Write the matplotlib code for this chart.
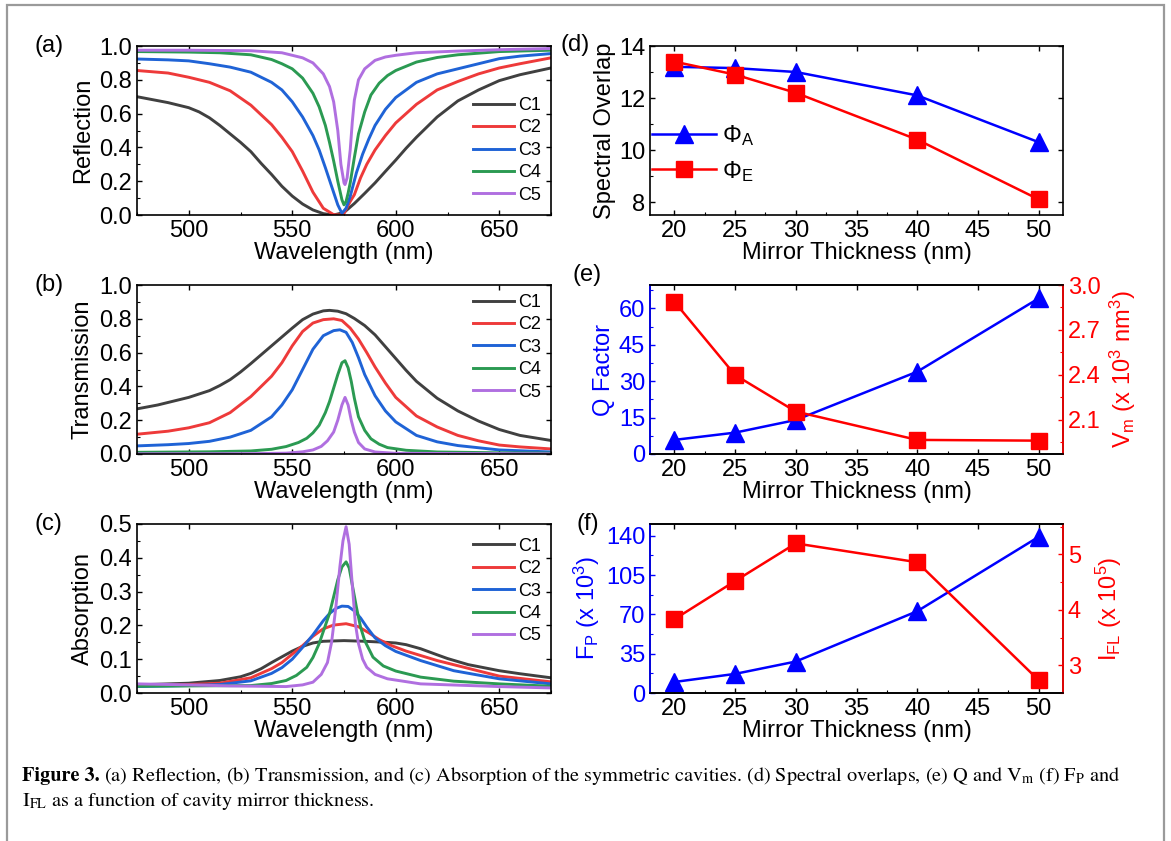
import matplotlib
matplotlib.use("Agg")
import matplotlib.pyplot as plt
from matplotlib.patches import Rectangle
from matplotlib.ticker import MultipleLocator, FormatStrFormatter

plt.rcParams['font.family'] = ['Liberation Sans', 'DejaVu Sans']
plt.rcParams['mathtext.fontset'] = 'custom'
plt.rcParams['mathtext.rm'] = 'Liberation Sans'
plt.rcParams['mathtext.it'] = 'Liberation Sans:italic'
plt.rcParams['mathtext.bf'] = 'Liberation Sans:bold'

# ---------------- data ----------------
cavities = ["C1", "C2", "C3", "C4", "C5"]
curve_colors = ["#404040", "#ee3a3a", "#1f63d6", "#2b9a52", "#b06fe0"]

# Reflection
R_C1_wl = [475, 490, 500, 505, 510, 515, 520, 525, 530, 535, 540, 545, 550, 555, 560, 565, 570, 575, 580, 585, 590, 595, 600, 605, 610, 620, 630, 640, 650, 660, 675]
R_C1 = [0.70, 0.665, 0.635, 0.61, 0.575, 0.53, 0.48, 0.43, 0.375, 0.305, 0.24, 0.17, 0.112, 0.065, 0.03, 0.008, 0.0, 0.015, 0.068, 0.128, 0.19, 0.258, 0.325, 0.395, 0.46, 0.58, 0.675, 0.74, 0.795, 0.83, 0.87]
R_C2_wl = [475, 490, 500, 510, 520, 530, 540, 545, 550, 555, 560, 565, 570, 573, 575, 578, 580, 583, 586, 590, 595, 600, 610, 620, 630, 640, 650, 660, 675]
R_C2 = [0.855, 0.84, 0.815, 0.785, 0.735, 0.65, 0.535, 0.46, 0.375, 0.26, 0.135, 0.04, 0.002, 0.0, 0.01, 0.08, 0.12, 0.22, 0.30, 0.385, 0.47, 0.545, 0.655, 0.74, 0.79, 0.835, 0.87, 0.895, 0.93]
R_C3_wl = [475, 490, 500, 510, 520, 530, 540, 545, 550, 555, 560, 563, 566, 569, 572, 574, 576, 578, 581, 584, 587, 590, 595, 600, 610, 620, 630, 640, 650, 660, 675]
R_C3 = [0.923, 0.918, 0.912, 0.895, 0.875, 0.845, 0.785, 0.74, 0.67, 0.58, 0.47, 0.385, 0.28, 0.17, 0.06, 0.01, 0.04, 0.11, 0.25, 0.36, 0.45, 0.53, 0.625, 0.695, 0.785, 0.835, 0.865, 0.895, 0.925, 0.94, 0.955]
R_C4_wl = [475, 500, 515, 530, 540, 545, 550, 555, 560, 563, 566, 568, 570, 572, 574, 575, 576, 577, 578, 580, 582, 585, 588, 592, 596, 600, 610, 620, 630, 650, 675]
R_C4 = [0.967, 0.964, 0.96, 0.948, 0.92, 0.895, 0.865, 0.81, 0.72, 0.64, 0.53, 0.43, 0.32, 0.2, 0.09, 0.06, 0.08, 0.13, 0.19, 0.34, 0.48, 0.61, 0.71, 0.78, 0.825, 0.855, 0.905, 0.932, 0.948, 0.967, 0.975]
R_C5_wl = [475, 500, 530, 545, 555, 560, 565, 568, 570, 572, 573.5, 575, 575.5, 576.5, 578, 579, 580, 582, 585, 590, 595, 600, 610, 630, 650, 675]
R_C5 = [0.975, 0.975, 0.972, 0.96, 0.93, 0.9, 0.835, 0.76, 0.67, 0.5, 0.3, 0.19, 0.18, 0.22, 0.385, 0.55, 0.68, 0.80, 0.865, 0.915, 0.935, 0.945, 0.96, 0.97, 0.978, 0.985]

# Transmission
T_C1_wl = [475, 485, 500, 510, 515, 520, 525, 530, 540, 550, 555, 560, 565, 568, 572, 576, 580, 585, 590, 595, 600, 605, 610, 620, 630, 640, 650, 660, 675]
T_C1 = [0.267, 0.29, 0.335, 0.375, 0.405, 0.44, 0.485, 0.535, 0.64, 0.745, 0.795, 0.828, 0.847, 0.85, 0.845, 0.83, 0.802, 0.76, 0.705, 0.635, 0.565, 0.495, 0.43, 0.33, 0.255, 0.195, 0.145, 0.11, 0.08]
T_C2_wl = [475, 490, 500, 510, 520, 530, 540, 545, 550, 555, 560, 565, 570, 574, 578, 582, 586, 590, 595, 600, 610, 620, 630, 640, 650, 660, 675]
T_C2 = [0.117, 0.135, 0.155, 0.185, 0.245, 0.34, 0.46, 0.54, 0.64, 0.725, 0.775, 0.795, 0.80, 0.79, 0.745, 0.68, 0.6, 0.515, 0.42, 0.335, 0.225, 0.16, 0.11, 0.078, 0.053, 0.042, 0.03]
T_C3_wl = [475, 490, 500, 510, 520, 530, 540, 545, 550, 555, 560, 565, 570, 573, 576, 579, 582, 585, 590, 595, 600, 610, 620, 630, 650, 675]
T_C3 = [0.048, 0.055, 0.062, 0.075, 0.1, 0.14, 0.22, 0.29, 0.38, 0.5, 0.62, 0.7, 0.73, 0.735, 0.72, 0.66, 0.57, 0.47, 0.345, 0.255, 0.19, 0.11, 0.072, 0.05, 0.024, 0.012]
T_C4_wl = [475, 510, 530, 540, 547, 553, 557, 560, 563, 566, 568, 570, 572, 574, 575.5, 577, 578.5, 580, 582, 585, 588, 592, 596, 605, 620, 650, 675]
T_C4 = [0.01, 0.013, 0.018, 0.028, 0.044, 0.068, 0.093, 0.125, 0.17, 0.245, 0.31, 0.39, 0.47, 0.54, 0.552, 0.51, 0.43, 0.33, 0.22, 0.14, 0.09, 0.058, 0.038, 0.022, 0.012, 0.007, 0.005]
T_C5_wl = [475, 530, 547, 555, 560, 564, 567, 570, 572, 574, 575.5, 577, 578.5, 580, 582, 585, 590, 600, 675]
T_C5 = [0.001, 0.002, 0.005, 0.013, 0.024, 0.045, 0.078, 0.13, 0.2, 0.29, 0.335, 0.29, 0.2, 0.13, 0.068, 0.03, 0.012, 0.004, 0.001]

# Absorption
A_C1_wl = [475, 500, 515, 525, 530, 535, 540, 545, 550, 555, 560, 565, 575, 585, 595, 600, 605, 612, 620, 625, 635, 650, 660, 675]
A_C1 = [0.024, 0.029, 0.037, 0.048, 0.058, 0.072, 0.09, 0.107, 0.124, 0.138, 0.148, 0.153, 0.155, 0.153, 0.15, 0.148, 0.143, 0.131, 0.113, 0.102, 0.084, 0.066, 0.057, 0.045]
A_C2_wl = [475, 500, 515, 530, 540, 545, 550, 555, 560, 565, 570, 576, 582, 587, 592, 598, 605, 620, 635, 650, 675]
A_C2 = [0.022, 0.025, 0.029, 0.045, 0.072, 0.09, 0.115, 0.14, 0.168, 0.19, 0.201, 0.205, 0.196, 0.178, 0.158, 0.14, 0.124, 0.096, 0.073, 0.05, 0.033]
A_C3_wl = [475, 500, 515, 530, 540, 545, 550, 555, 560, 565, 568, 571, 574, 577, 580, 583, 586, 590, 595, 600, 612, 628, 650, 675]
A_C3 = [0.019, 0.022, 0.025, 0.036, 0.058, 0.075, 0.1, 0.135, 0.172, 0.214, 0.235, 0.25, 0.257, 0.256, 0.243, 0.222, 0.195, 0.163, 0.14, 0.123, 0.096, 0.066, 0.042, 0.027]
A_C4_wl = [475, 530, 540, 547, 552, 557, 560, 563, 566, 568, 570, 572, 574, 576, 577.5, 579, 581, 583, 585, 589, 594, 600, 612, 628, 650, 675]
A_C4 = [0.02, 0.022, 0.028, 0.037, 0.052, 0.076, 0.105, 0.146, 0.2, 0.235, 0.285, 0.335, 0.373, 0.388, 0.37, 0.32, 0.254, 0.195, 0.155, 0.106, 0.08, 0.065, 0.047, 0.035, 0.027, 0.02]
A_C5_wl = [475, 500, 520, 547, 555, 560, 564, 567, 569, 571, 573, 574.5, 576, 577.5, 579, 580.5, 582, 584, 586, 590, 596, 612, 650, 675]
A_C5 = [0.027, 0.024, 0.021, 0.019, 0.024, 0.032, 0.055, 0.09, 0.15, 0.25, 0.373, 0.45, 0.492, 0.44, 0.32, 0.205, 0.146, 0.1, 0.076, 0.055, 0.042, 0.027, 0.019, 0.015]

# Mirror-thickness panels
thickness = [20, 25, 30, 40, 50]
phi_A = [13.2, 13.15, 13.0, 12.1, 10.3]
phi_E = [13.4, 12.9, 12.2, 10.4, 8.1]
q_factor = [5.8, 8.8, 14.0, 33.9, 64.1]
v_mode = [2.889, 2.40, 2.156, 1.967, 1.962]
purcell = [9.8, 17.0, 28.0, 72.8, 139.0]
i_fl = [3.83, 4.52, 5.20, 4.86, 2.73]

# ---------------- figure ----------------
W, H = 1171, 841
fig = plt.figure(figsize=(W / 100, H / 100), dpi=100)

def ax_px(l, t, r, b):
    return fig.add_axes([l / W, 1 - b / H, (r - l) / W, (b - t) / H])

FS = 17
BLUE = "#0000ff"
RED = "#ff0000"

def ticks(ax, right=True, color=None, axis='both'):
    kw = dict(which='both', direction='in', labelsize=FS, pad=3.5)
    if color:
        kw['colors'] = color
    ax.tick_params(axis=axis, **kw)
    ax.tick_params(axis=axis, which='major', length=3.8, width=1.0)
    ax.tick_params(axis=axis, which='minor', length=2.2, width=0.8)

def style(ax, right=True):
    ticks(ax)
    ax.tick_params(top=True, right=right)
    for s in ax.spines.values():
        s.set_linewidth(1.2)

rows = [(46, 215), (285, 454), (524, 693)]
LX0, LX1 = 137, 551
RX0, RX1 = 650, 1063

spec_sets = [
    ("Reflection", [(R_C1_wl, R_C1), (R_C2_wl, R_C2), (R_C3_wl, R_C3), (R_C4_wl, R_C4), (R_C5_wl, R_C5)], 1.0, 0.2, 0.1, "(a)"),
    ("Transmission", [(T_C1_wl, T_C1), (T_C2_wl, T_C2), (T_C3_wl, T_C3), (T_C4_wl, T_C4), (T_C5_wl, T_C5)], 1.0, 0.2, 0.1, "(b)"),
    ("Absorption", [(A_C1_wl, A_C1), (A_C2_wl, A_C2), (A_C3_wl, A_C3), (A_C4_wl, A_C4), (A_C5_wl, A_C5)], 0.5, 0.1, 0.05, "(c)"),
]
legend_anchor = [(0.977, 0.698), (0.977, 0.947), (0.977, 0.919)]

for i, (ylab, series, ymax, ymaj, ymin, tag) in enumerate(spec_sets):
    t, b = rows[i]
    ax = ax_px(LX0, t, LX1, b)
    for (wl, val), name, col in zip(series, cavities, curve_colors):
        ax.plot(wl, val, color=col, lw=2.1, label=name, solid_joinstyle='round')
    ax.set_xlim(475, 675)
    ax.set_ylim(0, ymax)
    ax.xaxis.set_major_locator(MultipleLocator(50))
    ax.xaxis.set_minor_locator(MultipleLocator(25))
    ax.yaxis.set_major_locator(MultipleLocator(ymaj))
    ax.yaxis.set_minor_locator(MultipleLocator(ymin))
    ax.yaxis.set_major_formatter(FormatStrFormatter('%.1f'))
    style(ax)
    ax.set_xlabel("Wavelength (nm)", fontsize=FS, labelpad=0)
    ax.set_ylabel(ylab, fontsize=FS, labelpad=4)
    ax.legend(loc='upper right', bbox_to_anchor=legend_anchor[i], frameon=False,
              fontsize=13, handlelength=2.27, handletextpad=0.28,
              labelspacing=0.3, borderaxespad=0, borderpad=0)
    fig.text(35 / W, 1 - t / H, tag, fontsize=FS, va='center', ha='left')

# (d)
t, b = rows[0]
axd = ax_px(RX0, t, RX1, b)
axd.plot(thickness, phi_A, color=BLUE, lw=1.8, marker='^', ms=13.5, label=r"$\Phi_\mathrm{A}$")
axd.plot(thickness, phi_E, color=RED, lw=1.8, marker='s', ms=12, label=r"$\Phi_\mathrm{E}$")
axd.set_xlim(18, 52)
axd.set_ylim(7.5, 14)
axd.xaxis.set_major_locator(MultipleLocator(5))
axd.xaxis.set_minor_locator(MultipleLocator(2.5))
axd.yaxis.set_major_locator(MultipleLocator(2))
axd.yaxis.set_minor_locator(MultipleLocator(1))
style(axd)
axd.set_xlabel("Mirror Thickness (nm)", fontsize=FS, labelpad=0)
axd.set_ylabel("Spectral Overlap", fontsize=FS, labelpad=2)
axd.legend(loc='center left', bbox_to_anchor=(0.005, 0.365), frameon=False, fontsize=17,
           handlelength=2.7, handletextpad=0.25, labelspacing=0.45,
           borderaxespad=0, borderpad=0)
fig.text(561 / W, 1 - 45 / H, "(d)", fontsize=FS, va='center', ha='left')

def twin_panel(t, b, left_vals, right_vals, lylim, rylim, lmaj, rmaj, rfmt, llab, rlab, rpad):
    ax = ax_px(RX0, t, RX1, b)
    ax2 = ax.twinx()
    ax.plot(thickness, left_vals, color=BLUE, lw=1.8, marker='^', ms=13.5, zorder=3)
    ax2.plot(thickness, right_vals, color=RED, lw=1.8, marker='s', ms=12)
    ax.set_xlim(18, 52)
    ax.set_ylim(*lylim)
    ax2.set_ylim(*rylim)
    ax.xaxis.set_major_locator(MultipleLocator(5))
    ax.xaxis.set_minor_locator(MultipleLocator(2.5))
    ax.yaxis.set_major_locator(MultipleLocator(lmaj))
    ax.yaxis.set_minor_locator(MultipleLocator(lmaj / 2))
    ax2.yaxis.set_major_locator(MultipleLocator(rmaj))
    ax2.yaxis.set_minor_locator(MultipleLocator(rmaj / 2))
    if rfmt:
        ax2.yaxis.set_major_formatter(FormatStrFormatter(rfmt))
    style(ax, right=False)
    ticks(ax, color=BLUE, axis='y')
    ticks(ax2, color=RED, axis='y')
    for s in ax2.spines.values():
        s.set_linewidth(1.2)
    ax2.spines['left'].set_color(BLUE)
    ax2.spines['right'].set_color(RED)
    ax.set_xlabel("Mirror Thickness (nm)", fontsize=FS, labelpad=0)
    ax.set_ylabel(llab, fontsize=FS, color=BLUE, labelpad=3)
    ax2.set_ylabel(rlab, fontsize=FS, color=RED, labelpad=rpad)
    return ax, ax2

# (e)
t, b = rows[1]
twin_panel(t, b, q_factor, v_mode, (0, 69.6), (1.873, 3.0), 15, 0.3, '%.1f',
           "Q Factor", r"V$_\mathrm{m}$ (x 10$^3$ nm$^3$)", 5)
fig.text(573 / W, 1 - 275 / H, "(e)", fontsize=FS, va='center', ha='left')

# (f)
t, b = rows[2]
twin_panel(t, b, purcell, i_fl, (0, 150.4), (2.5, 5.55), 35, 1, None,
           r"F$_\mathrm{P}$ (x 10$^3$)", r"I$_\mathrm{FL}$ (x 10$^5$)", 9)
fig.text(577 / W, 1 - 524 / H, "(f)", fontsize=FS, va='center', ha='left')

# frame
fig.patches.append(Rectangle((7 / W, -0.01), (1164 - 7) / W, 1 - 5 / H + 0.01,
                             transform=fig.transFigure, fill=False,
                             edgecolor="#9a9a9a", lw=1.6))

# caption (font size fitted so the first line spans the same width as the reference)
line1_rest = (r"(a) Reflection, (b) Transmission, and (c) Absorption of the symmetric cavities. "
              r"(d) Spectral overlaps, (e) Q and V$_\mathrm{m}$ (f) F$_\mathrm{P}$ and")
line2 = r"I$_\mathrm{FL}$ as a function of cavity mirror thickness."
X0, X_END = 22, 1122

def place_caption(fs):
    kw = dict(fontsize=fs, family='STIXGeneral', math_fontfamily='stix', va='baseline', ha='left')
    fig.canvas.draw()
    r = fig.canvas.get_renderer()
    t1 = fig.text(X0 / W, 1 - 781 / H, "Figure 3.", fontweight='bold', **kw)
    bb = t1.get_window_extent(renderer=r)
    t2 = fig.text((bb.x1 + 4) / W, 1 - 781 / H, line1_rest, **kw)
    t3 = fig.text(X0 / W, 1 - 806 / H, line2, **kw)
    return [t1, t2, t3], t2.get_window_extent(renderer=r).x1

texts, xend = place_caption(12.5)
scale = (X_END - X0) / (xend - X0)
for tt in texts:
    tt.remove()
place_caption(12.5 * scale)

fig.savefig("out.png", dpi=100)
